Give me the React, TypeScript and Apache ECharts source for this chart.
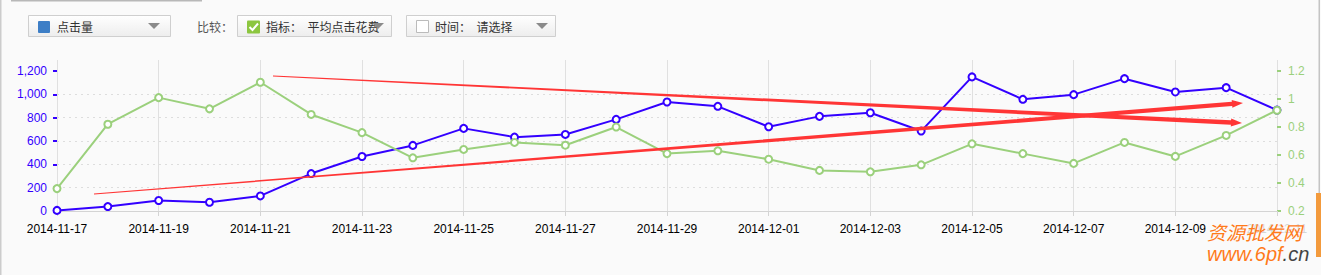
import React, { useEffect, useRef } from "react";
import * as echarts from "echarts";

const dates = [
  "2014-11-17", "2014-11-18", "2014-11-19", "2014-11-20", "2014-11-21",
  "2014-11-22", "2014-11-23", "2014-11-24", "2014-11-25", "2014-11-26",
  "2014-11-27", "2014-11-28", "2014-11-29", "2014-11-30", "2014-12-01",
  "2014-12-02", "2014-12-03", "2014-12-04", "2014-12-05", "2014-12-06",
  "2014-12-07", "2014-12-08", "2014-12-09", "2014-12-10", "2014-12-11",
];
const clicks = [5, 38, 90, 75, 129, 321, 467, 562, 708, 633, 656, 785, 934, 897, 722, 811, 842, 685, 1149, 957, 997, 1134, 1020, 1057, 865];
const avgCost = [0.36, 0.82, 1.01, 0.93, 1.12, 0.89, 0.76, 0.58, 0.64, 0.69, 0.67, 0.8, 0.61, 0.63, 0.57, 0.49, 0.48, 0.53, 0.68, 0.61, 0.54, 0.69, 0.59, 0.74, 0.92];
const leftTicks = [0, 200, 400, 600, 800, 1000, 1200];
const rightTicks = [0.2, 0.4, 0.6, 0.8, 1, 1.2];

const BLUE = "#3300ff";
const GREEN = "#9bd07c";
const RED = "#ff3535";
const AX_FONT = "Liberation Sans, Arial, sans-serif";
const CJK = "Noto Sans CJK SC, sans-serif";

function arrowPts(x1: number, y1: number, x2: number, y2: number, w0: number, w1: number, hl: number, hw: number) {
  const dx = x2 - x1, dy = y2 - y1, L = Math.hypot(dx, dy);
  const ux = dx / L, uy = dy / L, nx = -uy, ny = ux;
  const bx = x2 - ux * hl, by = y2 - uy * hl;
  return [
    [x1 + nx * w0 / 2, y1 + ny * w0 / 2],
    [bx + nx * w1 / 2, by + ny * w1 / 2],
    [bx + nx * hw / 2, by + ny * hw / 2],
    [x2, y2],
    [bx - nx * hw / 2, by - ny * hw / 2],
    [bx - nx * w1 / 2, by - ny * w1 / 2],
    [x1 - nx * w0 / 2, y1 - ny * w0 / 2],
  ];
}

function dropdown(x: number, w: number): any {
  return {
    type: "rect",
    shape: { x: x + 0.5, y: 15.5, width: w, height: 21 },
    style: {
      fill: new echarts.graphic.LinearGradient(0, 0, 0, 1, [
        { offset: 0, color: "#ffffff" },
        { offset: 1, color: "#ededed" },
      ]),
      stroke: "#cfcfcf",
      lineWidth: 1,
    },
  };
}

function tri(x: number): any {
  return {
    type: "polygon",
    shape: { points: [[x, 23], [x + 12, 23], [x + 6, 29]] },
    style: { fill: "#8a8a8a" },
  };
}

function txt(x: number, text: string, color = "#333"): any {
  return {
    type: "text",
    x,
    y: 26.5,
    style: { text, fill: color, font: `12px ${CJK}`, verticalAlign: "middle", align: "left" },
  };
}

export default function App() {
  const ref = useRef<HTMLDivElement>(null);
  useEffect(() => {
    document.body.style.margin = "0";
    const chart = echarts.init(ref.current!, null, { renderer: "svg" });
    const option: any = {
      animation: false,
      backgroundColor: "#fafafa",
      grid: { left: 57, right: 44, top: 60, bottom: 64, containLabel: false, outerBoundsMode: "none" },
      xAxis: {
        type: "category",
        data: dates,
        boundaryGap: false,
        axisLine: { lineStyle: { color: "#d4d4d4", width: 1 } },
        axisTick: { show: true, interval: 1, length: 5, lineStyle: { color: "#d4d4d4" } },
        axisLabel: { interval: 1, color: "#000", fontSize: 12, fontFamily: AX_FONT, margin: 12 },
        splitLine: { show: true, interval: 1, lineStyle: { color: "#e0e0e0", width: 1 } },
      },
      yAxis: [
        {
          type: "value",
          min: 0,
          max: 1294,
          interval: 200,
          position: "left",
          axisLine: { show: false },
          axisTick: { show: true, length: 4, customValues: leftTicks, lineStyle: { color: BLUE, width: 2 } },
          axisLabel: {
            color: BLUE,
            fontSize: 12,
            fontFamily: AX_FONT,
            margin: 10,
            customValues: leftTicks,
            formatter: (v: number) => v.toLocaleString("en-US"),
          },
          splitLine: { show: true, showMaxLine: false, showMinLine: false, lineStyle: { color: "#dddddd", type: [2, 4], width: 1 } },
        },
        {
          type: "value",
          min: 0.2,
          max: 1.279,
          interval: 0.2,
          position: "right",
          axisLine: { show: false },
          axisTick: { show: true, length: 4, customValues: rightTicks, lineStyle: { color: GREEN, width: 2 } },
          axisLabel: {
            color: GREEN,
            fontSize: 12,
            fontFamily: AX_FONT,
            margin: 11,
            customValues: rightTicks,
            formatter: (v: number) => String(Math.round(v * 10) / 10),
          },
          splitLine: { show: false },
        },
      ],
      series: [
        {
          name: "点击量",
          type: "line",
          data: clicks,
          yAxisIndex: 0,
          symbol: "emptyCircle",
          symbolSize: 7,
          lineStyle: { color: BLUE, width: 2 },
          itemStyle: { color: BLUE, borderColor: BLUE, borderWidth: 2 },
          z: 3,
        },
        {
          name: "平均点击花费",
          type: "line",
          data: avgCost,
          yAxisIndex: 1,
          symbol: "emptyCircle",
          symbolSize: 7,
          lineStyle: { color: GREEN, width: 2 },
          itemStyle: { color: GREEN, borderColor: GREEN, borderWidth: 2 },
          z: 4,
        },
      ],
      graphic: [
        // frame lines
        { type: "rect", shape: { x: 11, y: 0, width: 191, height: 1.5 }, style: { fill: "#b8b8b8" } },
        { type: "rect", shape: { x: 0, y: 0, width: 1.5, height: 275 }, style: { fill: "#cccccc" } },
        { type: "rect", shape: { x: 1318.5, y: 0, width: 1.5, height: 193 }, style: { fill: "#c4c4c4" } },
        { type: "rect", shape: { x: 1316, y: 193, width: 5, height: 64 }, style: { fill: "#f39a3c" } },
        // dropdown 1
        dropdown(28, 142),
        { type: "rect", shape: { x: 38, y: 21, width: 12, height: 12, r: 1 }, style: { fill: "#3d7ec6" } },
        txt(57, "点击量"),
        tri(148),
        // compare label
        txt(197, "比较：", "#555"),
        // dropdown 2
        dropdown(237, 154),
        { type: "rect", shape: { x: 247, y: 20.5, width: 13, height: 13, r: 1 }, style: { fill: "#8cc63f" } },
        { type: "polyline", shape: { points: [[249.5, 27], [252.5, 30], [258, 23.5]] }, style: { stroke: "#fff", lineWidth: 2, fill: null } },
        txt(266, "指标：  平均点击花费"),
        tri(372),
        // dropdown 3
        dropdown(406, 149),
        { type: "rect", shape: { x: 416.5, y: 20.5, width: 12, height: 12 }, style: { fill: "#fff", stroke: "#bbbbbb", lineWidth: 1 } },
        txt(435, "时间：  请选择"),
        tri(536),
        // red arrows
        { type: "polygon", z: 100, shape: { points: arrowPts(94, 194, 1243, 103, 1, 4.5, 11, 8) }, style: { fill: RED } },
        { type: "polygon", z: 100, shape: { points: arrowPts(273, 76, 1242, 123, 1, 4.5, 11, 8) }, style: { fill: RED } },
        // watermark
        { type: "rect", z: 100, shape: { x: 1236, y: 222, width: 74, height: 16 }, style: { fill: "rgba(250,250,250,0.85)" } },
        {
          type: "text", z: 101, x: 1207, y: 231,
          style: { text: "资源批发网", fill: "#ff7a1a", font: `italic 19px ${CJK}`, verticalAlign: "middle", align: "left" },
        },
        {
          type: "text", z: 101, x: 1207, y: 254,
          style: {
            text: "{a|www.6pf}{b|.cn}",
            verticalAlign: "middle",
            align: "left",
            rich: {
              a: { fill: "#ff7a1a", font: `italic 20px ${AX_FONT}` },
              b: { fill: "#444", font: `italic 20px ${AX_FONT}` },
            },
          },
        },
      ],
    };
    chart.setOption(option);
    return () => chart.dispose();
  }, []);
  return <div ref={ref} style={{ position: "absolute", left: 0, top: 0, width: 1321, height: 275 }} />;
}
